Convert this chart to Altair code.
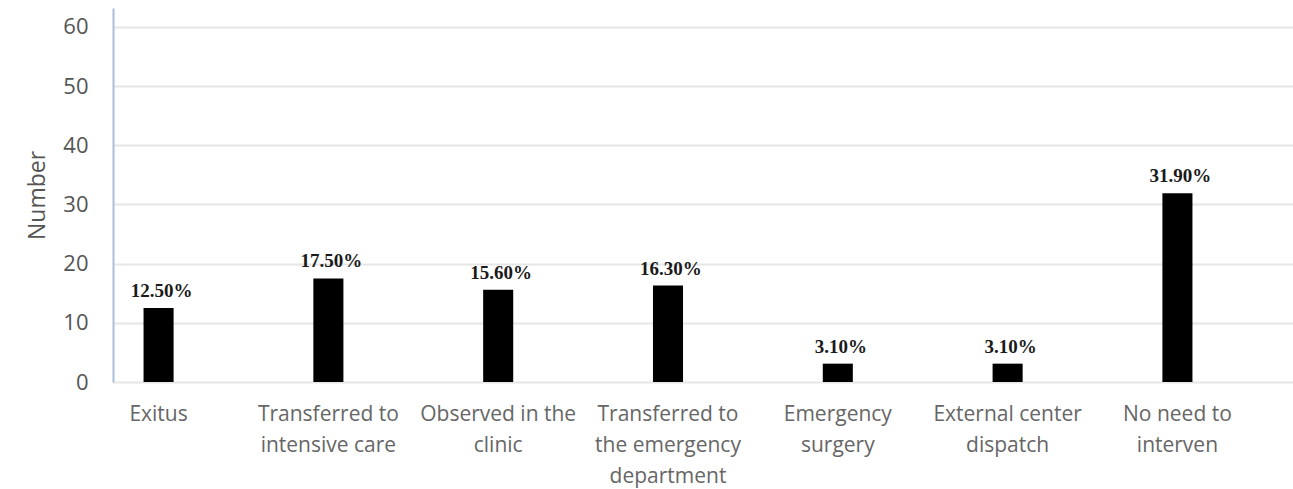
import altair as alt
import pandas as pd

categories = [
    "Exitus",
    "Transferred to|intensive care",
    "Observed in the|clinic",
    "Transferred to|the emergency|department",
    "Emergency|surgery",
    "External center|dispatch",
    "No need to|interven",
]
values = [12.5, 17.5, 15.6, 16.3, 3.1, 3.1, 31.9]
pct_labels = ["12.50%", "17.50%", "15.60%", "16.30%", "3.10%", "3.10%", "31.90%"]
y_ticks = [0, 10, 20, 30, 40, 50, 60]

df = pd.DataFrame({"cat": categories, "val": values, "lab": pct_labels})

x = alt.X(
    "cat:N",
    sort=categories,
    scale=alt.Scale(type="band", paddingInner=0.823, paddingOuter=0.386, align=0.233),
    axis=alt.Axis(
        title=None,
        labelExpr="split(datum.label, '|')",
        labelAngle=0,
        labelFont="Open Sans",
        labelFontSize=21,
        labelColor="#666666",
        labelLineHeight=31,
        labelBaseline="top",
        labelPadding=21,
        ticks=False,
        domain=False,
        grid=False,
        labelLimit=300,
    ),
)
y = alt.Y(
    "val:Q",
    scale=alt.Scale(domain=[0, 63.2], nice=False),
    axis=alt.Axis(
        title="Number",
        titleFont="Open Sans",
        titleFontSize=23,
        titleFontWeight="normal",
        titleColor="#555555",
        titlePadding=13,
        values=y_ticks,
        labelFont="Open Sans",
        labelFontSize=22,
        labelColor="#555555",
        labelPadding=25,
        ticks=False,
        domainColor="#a9bedb",
        domainWidth=2,
        grid=True,
        gridColor="#e6e6e6",
        gridWidth=2,
    ),
)

bars = alt.Chart(df).mark_bar(color="black").encode(x=x, y=y)
text = alt.Chart(df).mark_text(
    font="Liberation Serif", fontWeight="bold", fontSize=19, dy=-17, dx=3,
    baseline="middle", color="#1a1a1a",
).encode(x=x, y=y, text="lab:N")

chart = (
    alt.layer(bars, text)
    .properties(
        width=1180,
        height=374,
        background="white",
        autosize=alt.AutoSizeParams(type="none"),
        padding={"left": 113, "top": 8, "right": 0, "bottom": 107},
    )
    .configure_view(strokeWidth=0, stroke="transparent")
)

chart.save("out.html", embed_options={"renderer": "svg", "actions": False})
